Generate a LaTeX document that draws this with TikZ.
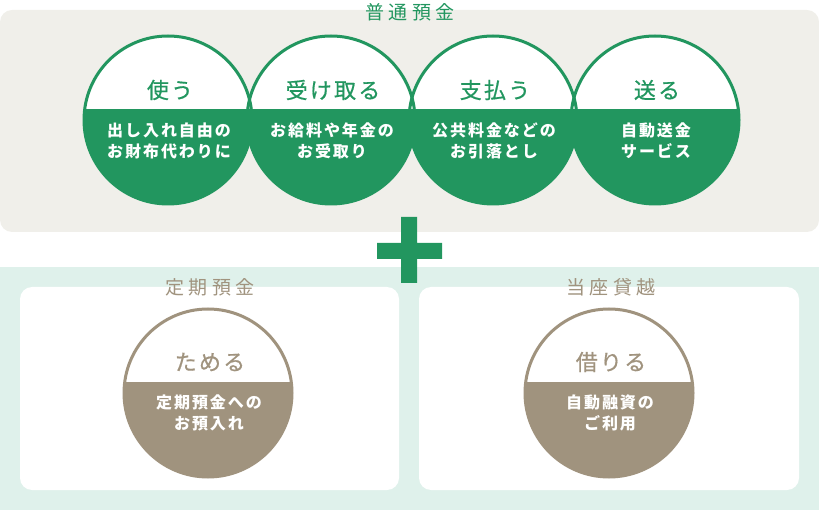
\documentclass[tikz,border=0pt]{standalone}
\usepackage{fontspec}
\setmainfont{Noto Sans CJK JP}
\newfontfamily\headfont[LetterSpace=22]{Noto Sans CJK JP}
\newfontfamily\ringfont[LetterSpace=10, FakeBold=0.6]{Noto Sans CJK JP}
\newfontfamily\notefont[LetterSpace=12]{Noto Sans CJK JP}
\definecolor{bankgreen}{HTML}{22965F}
\definecolor{bankbrown}{HTML}{A0937E}
\definecolor{panelgrey}{HTML}{F0EFEA}
\definecolor{panelteal}{HTML}{DFF1EB}

\begin{document}
\begin{tikzpicture}[x=1pt, y=-1pt,
    ring/.style={circle, minimum size=168pt, inner sep=0pt, line width=3pt, draw=#1,
      path picture={\fill[#1] ([yshift=11pt]path picture bounding box.west) rectangle (path picture bounding box.south east);}},
    ringtitle/.style={font=\ringfont\fontsize{22}{24}\selectfont, text=#1, inner sep=0pt},
    ringnote/.style={font=\notefont\bfseries\fontsize{16}{21}\selectfont, text=white, align=center, inner sep=0pt},
    paneltitle/.style={font=\headfont\fontsize{19}{20}\selectfont, text=#1, inner sep=0pt}]
    \useasboundingbox (0,0) rectangle (819,510);
    % ordinary deposit
    \fill[panelgrey, rounded corners=12pt] (0,10) rectangle (819,232);
    \node[paneltitle=bankgreen] (futsu) at (410,12) {普通預金};
    \fill[white] (168,120) circle (84) (331,120) circle (84) (493,120) circle (84) (655,120) circle (84);
    \node[ring=bankgreen] (use) at (168,120) {};
    \node[ring=bankgreen] (receive) at (331,120) {};
    \node[ring=bankgreen] (pay) at (493,120) {};
    \node[ring=bankgreen] (send) at (655,120) {};
    \node[ringtitle=bankgreen] (use-t) at (170,90) {使う};
    \node[ringtitle=bankgreen] (receive-t) at (333,90) {受け取る};
    \node[ringtitle=bankgreen] (pay-t) at (495,90) {支払う};
    \node[ringtitle=bankgreen] (send-t) at (657,90) {送る};
    \node[ringnote] (use-n) at (169,141) {出し入れ自由の\\お財布代わりに};
    \node[ringnote] (receive-n) at (332,141) {お給料や年金の\\お受取り};
    \node[ringnote] (pay-n) at (494,141) {公共料金などの\\お引落とし};
    \node[ringnote] (send-n) at (656,141) {自動送金\\サービス};
    % time deposit and overdraft
    \fill[panelteal] (0,267) rectangle (819,510);
    \fill[white, rounded corners=12pt] (20,287) rectangle (399,490) (419,287) rectangle (799,490);
    \node[paneltitle=bankbrown] (teiki) at (210,287) {定期預金};
    \node[paneltitle=bankbrown] (touza) at (611,287) {当座貸越};
    \node[ring=bankbrown] (save) at (208,393) {};
    \node[ring=bankbrown] (borrow) at (609,393) {};
    \node[ringtitle=bankbrown] (save-t) at (210,362) {ためる};
    \node[ringtitle=bankbrown] (borrow-t) at (611,362) {借りる};
    \node[ringnote] (save-n) at (209,413) {定期預金への\\お預入れ};
    \node[ringnote] (borrow-n) at (610,413) {自動融資の\\ご利用};
    % plus
    \fill[bankgreen] (377,243) rectangle (442,259) (401,217) rectangle (417,283);
\end{tikzpicture}
\end{document}
